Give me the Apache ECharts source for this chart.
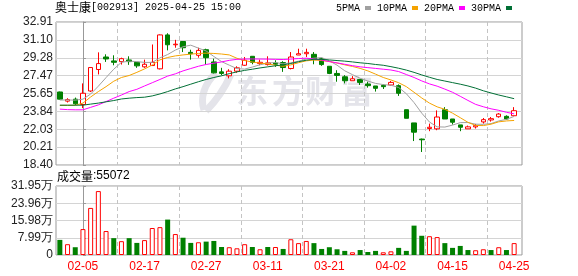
<!DOCTYPE html>
<html><head><meta charset="utf-8">
<script src="https://cdn.jsdelivr.net/npm/echarts@6/dist/echarts.min.js"></script>
<style>html,body{margin:0;padding:0;background:#fff}#c{width:578px;height:276px}</style>
</head><body><div id="c"></div>
<script>
const dates = ['01-23','01-24','01-27','02-05','02-06','02-07','02-10','02-11','02-12','02-13','02-14','02-17','02-18','02-19','02-20','02-21','02-24','02-25','02-26','02-27','02-28','03-03','03-04','03-05','03-06','03-07','03-10','03-11','03-12','03-13','03-14','03-17','03-18','03-19','03-20','03-21','03-24','03-25','03-26','03-27','03-28','03-31','04-01','04-02','04-03','04-07','04-08','04-09','04-10','04-11','04-14','04-15','04-16','04-17','04-18','04-21','04-22','04-23','04-24','04-25'];
const opens  = [25.81,24.88,25.08,24.54,25.91,28.09,29.36,28.96,28.89,29.06,28.82,28.36,28.49,28.16,31.60,30.60,30.93,29.83,29.53,30.10,28.86,27.85,27.45,27.92,28.52,29.43,28.69,28.59,28.76,28.79,28.19,29.56,29.69,29.63,29.19,28.42,27.69,27.35,26.95,27.08,26.62,26.42,26.48,26.52,26.45,24.01,22.67,21.03,22.10,22.07,24.01,23.07,22.47,22.07,22.27,22.77,22.97,23.30,23.34,23.40];
const closes = [25.08,25.04,24.61,25.68,28.29,28.69,29.16,28.82,29.19,28.89,28.46,28.62,28.82,31.60,30.60,30.66,30.30,29.69,30.03,29.29,27.75,27.69,27.92,28.26,29.03,28.82,28.82,28.76,28.62,28.29,29.36,29.69,29.83,29.09,28.59,27.69,27.49,26.95,27.15,26.78,26.45,26.18,26.35,26.78,25.68,23.14,21.73,20.96,22.23,23.27,23.07,22.74,22.23,22.27,22.40,23.00,23.10,23.57,23.07,23.91];
const lows   = [25.05,24.74,24.47,24.17,25.81,27.59,28.86,28.52,28.59,28.56,28.26,28.26,28.49,28.10,30.03,30.30,29.86,29.09,29.29,28.59,27.69,27.52,27.19,27.75,28.46,28.62,28.52,28.49,28.36,27.85,28.10,29.56,29.36,28.62,28.46,27.62,26.85,26.68,26.95,26.52,26.25,25.85,26.11,26.45,25.41,23.14,20.83,19.72,21.83,21.93,23.07,22.50,21.83,22.07,22.10,22.60,22.80,23.20,23.00,23.40];
const highs  = [25.85,25.18,25.24,26.68,28.29,29.83,29.63,29.53,29.29,29.43,28.85,29.09,30.63,31.65,31.77,31.10,30.95,30.10,30.30,30.20,29.19,28.26,28.12,28.42,29.36,29.46,29.09,29.43,29.03,28.93,29.86,30.20,30.20,29.86,29.29,28.42,28.02,27.52,27.42,27.08,26.85,26.42,26.58,26.92,26.58,24.01,22.67,21.08,22.60,23.94,24.27,23.07,22.47,22.40,22.57,23.17,23.27,23.67,23.44,24.27];
const volumes = [70000,50000,36000,120000,218000,296000,111000,78000,64000,78000,56000,69000,125000,129000,164000,97000,80000,56000,59000,62000,65000,37000,36000,31000,50000,37000,26500,37000,37000,28000,73000,55000,65000,55000,28000,36000,26500,19000,12500,23000,14000,19000,12500,17000,33000,19000,136000,89000,87000,83000,55000,33000,42000,23000,22000,26500,23000,36000,23000,55072];
const volUp = [0,1,0,1,1,1,1,0,1,0,0,1,1,1,0,1,0,0,1,0,0,0,1,1,1,0,1,0,1,0,1,1,1,0,0,0,0,0,1,0,0,0,1,1,0,0,0,0,1,1,0,0,0,0,1,1,0,1,0,1];
const ma5  = [24.99,25.00,24.98,25.08,25.60,26.40,27.27,28.12,28.82,28.94,28.89,28.81,28.81,29.27,29.61,30.06,30.40,30.56,30.26,29.97,29.41,28.89,28.53,28.18,28.13,28.34,28.57,28.74,28.80,28.66,28.77,28.94,29.15,29.24,29.30,28.97,28.53,27.96,27.57,27.20,26.92,26.68,26.56,26.49,26.27,25.63,24.73,23.66,22.76,22.27,22.25,22.45,22.70,22.71,22.54,22.53,22.60,22.87,23.03,23.33];
const ma10 = [24.45,24.45,24.46,24.68,25.30,25.85,26.35,26.90,27.28,27.48,27.80,28.15,28.55,29.07,29.31,29.47,29.57,29.65,29.72,29.75,29.72,29.66,29.57,29.23,29.00,28.85,28.74,28.66,28.52,28.42,28.56,28.78,28.97,29.05,29.00,28.89,28.75,28.56,28.40,28.20,27.95,27.62,27.28,27.03,26.75,26.35,25.78,25.20,24.68,24.30,24.05,23.66,23.20,22.73,22.41,22.40,22.54,22.78,22.87,22.92];
const ma20 = [24.07,24.02,24.00,24.00,24.25,24.50,24.84,25.18,25.50,25.85,26.08,26.42,26.75,27.08,27.42,27.65,27.95,28.19,28.42,28.60,28.73,28.86,29.02,29.12,29.15,29.16,29.15,29.14,29.12,29.10,29.15,29.20,29.24,29.15,29.05,28.90,28.76,28.62,28.48,28.36,28.28,28.20,28.12,28.04,27.88,27.58,27.28,26.93,26.63,26.40,26.10,25.78,25.37,24.95,24.55,24.31,24.10,23.95,23.75,23.59];
const ma30 = [24.47,24.47,24.47,24.47,24.58,24.68,24.81,24.94,25.10,25.18,25.24,25.28,25.41,25.61,25.85,26.12,26.35,26.60,26.85,27.08,27.28,27.45,27.67,27.85,28.00,28.12,28.25,28.36,28.47,28.56,28.70,28.88,29.03,29.13,29.12,29.06,29.00,28.94,28.86,28.77,28.70,28.60,28.52,28.38,28.22,28.03,27.80,27.54,27.30,27.08,26.92,26.76,26.60,26.42,26.20,25.93,25.71,25.50,25.32,25.13];
const labelEvery = 8, labelStart = 3;
const priceTicks = ['18.40','20.21','22.03','23.84','25.65','27.47','29.28','31.10','32.91'];
const volTicks = ['0','7.99万','15.98万','23.96万','31.95万'];
const priceMin = 18.40, priceMax = 32.91, volMax = 319500;

// layout
const L = 56, frameW = 466, plotW = 462, band = plotW / dates.length;
// frame x axis measured in bands, offset so that 0 falls on the first labelled date
const fMin = -labelStart - 0.5, fMax = fMin + frameW / band;

const chart = echarts.init(document.getElementById('c'));
const frameX = (gi)=>({gridIndex:gi, type:'value', min:fMin, max:fMax, interval:labelEvery, show:true,
  axisLine:{show:false}, axisTick:{show:false}, axisLabel:{show:false},
  splitLine:{show:true, showMinLine:false, showMaxLine:false, lineStyle:{color:'#c4c4c4', type:[4,3], width:1}}});
const wm = '#e4e4ea';
const wmChars = [['东',252],['方',288],['财',321],['富',357]];
const option = {
  animation:false,
  title:[
    {text:'{a|奥士康}{b|[002913] 2025-04-25 15:00}', left:55, top:1, padding:0,
     textStyle:{fontWeight:'normal', rich:{a:{fontFamily:'Noto Sans CJK SC', fontSize:12, fontWeight:'normal', color:'#000'}, b:{fontFamily:'Liberation Mono', fontSize:10, fontWeight:'normal', color:'#000'}}}},
    {text:'{a|成交量}{b|:' + volumes[volumes.length-1] + '}', left:57, top:170, padding:0,
     textStyle:{fontWeight:'normal', rich:{a:{fontFamily:'Noto Sans CJK SC', fontSize:12, fontWeight:'normal', color:'#000'}, b:{fontFamily:'Liberation Sans', fontSize:12, fontWeight:'normal', color:'#000'}}}}
  ],
  legend:{data:['5PMA','10PMA','20PMA','30PMA'], right:66, top:3, itemWidth:6, itemHeight:4, itemGap:6, align:'right', icon:'rect', selectedMode:false, padding:0,
    textStyle:{fontFamily:'Liberation Mono', fontSize:10, color:'#000'}},
  graphic:[
    ...wmChars.map(([ch,x])=>({type:'text', x:x, y:91, z:0, silent:true, style:{text:ch, font:'bold 32px "Noto Sans CJK SC"', fill:wm, align:'center', verticalAlign:'middle'}})),
    {type:'bezierCurve', z:0, silent:true, shape:{x1:216, y1:73, cpx1:204, cpy1:84, cpx2:200, cpy2:98, x2:204, y2:110}, style:{stroke:wm, lineWidth:7, fill:null}},
    {type:'bezierCurve', z:0, silent:true, shape:{x1:231, y1:74, cpx1:224, cpy1:90, cpx2:214, cpy2:103, x2:206, y2:111}, style:{stroke:wm, lineWidth:7, fill:null}}
  ],
  grid:[
    {left:L, top:22, width:frameW, height:143, show:true, borderColor:'#999', borderWidth:1, backgroundColor:'transparent'},
    {left:L, top:22, width:plotW, height:143},
    {left:L, top:186, width:frameW, height:69, show:true, borderColor:'#999', borderWidth:1, backgroundColor:'transparent'},
    {left:L, top:186, width:plotW, height:69}
  ],
  xAxis:[
    frameX(0),
    {gridIndex:1, type:'category', data:dates, boundaryGap:true, axisLine:{show:false}, axisTick:{show:false}, axisLabel:{show:false}, splitLine:{show:false}},
    frameX(2),
    {gridIndex:3, type:'category', data:dates, boundaryGap:true, axisLine:{show:false}, axisTick:{show:false}, splitLine:{show:false},
     axisLabel:{interval:(i)=>i % labelEvery === labelStart, color:'#ff0000', fontSize:12, margin:6, fontFamily:'Liberation Sans'}}
  ],
  yAxis:[
    {gridIndex:0, type:'value', min:0, max:priceTicks.length-1, interval:1,
     axisLine:{show:true, lineStyle:{color:'#999'}}, axisTick:{show:true, inside:true, length:3, lineStyle:{color:'#999'}},
     axisLabel:{formatter:(v)=>priceTicks[v], color:'#222', fontSize:12, margin:3, fontFamily:'Liberation Sans'},
     splitLine:{show:true, lineStyle:{color:'#d4d4d4'}}},
    {gridIndex:1, type:'value', min:priceMin, max:priceMax, show:false},
    {gridIndex:2, type:'value', min:0, max:volTicks.length-1, interval:1,
     axisLine:{show:true, lineStyle:{color:'#999'}}, axisTick:{show:true, inside:true, length:3, lineStyle:{color:'#999'}},
     axisLabel:{formatter:(v)=>volTicks[v], color:'#222', fontSize:12, margin:3, fontFamily:'Liberation Sans'},
     splitLine:{show:true, lineStyle:{color:'#d4d4d4'}}},
    {gridIndex:3, type:'value', min:0, max:volMax, show:false}
  ],
  series:[
    {type:'candlestick', name:'K', xAxisIndex:1, yAxisIndex:1, barWidth:5, z:2,
     data:dates.map((d,i)=>[opens[i],closes[i],lows[i],highs[i]]),
     itemStyle:{color:'#ffffff', color0:'#008000', borderColor:'#ff0000', borderColor0:'#008000', borderWidth:1}},
    {type:'line', name:'5PMA', xAxisIndex:1, yAxisIndex:1, data:ma5, symbol:'none', color:'#a0a0a0', lineStyle:{width:1, color:'#a0a0a0'}, z:3},
    {type:'line', name:'10PMA', xAxisIndex:1, yAxisIndex:1, data:ma10, symbol:'none', color:'#f5a300', lineStyle:{width:1, color:'#f5a300'}, z:3},
    {type:'line', name:'20PMA', xAxisIndex:1, yAxisIndex:1, data:ma20, symbol:'none', color:'#ff00ff', lineStyle:{width:1, color:'#ff00ff'}, z:3},
    {type:'line', name:'30PMA', xAxisIndex:1, yAxisIndex:1, data:ma30, symbol:'none', color:'#006f35', lineStyle:{width:1, color:'#006f35'}, z:3},
    {type:'bar', name:'VOL', xAxisIndex:3, yAxisIndex:3, barWidth:5, z:2,
     data:volumes.map((v,i)=>({value:v, itemStyle: volUp[i] ? {color:'#ffffff', borderColor:'#ff0000', borderWidth:1} : {color:'#008000'}}))}
  ]
};
chart.setOption(option);
</script></body></html>
